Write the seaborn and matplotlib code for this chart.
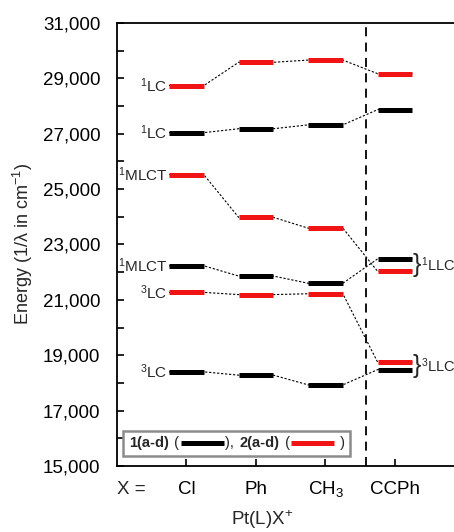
import matplotlib
matplotlib.use("Agg")
import matplotlib.pyplot as plt
import pandas as pd
import seaborn as sns
from matplotlib.lines import Line2D
from matplotlib.offsetbox import AnchoredOffsetbox, DrawingArea, HPacker, TextArea
from matplotlib.ticker import FuncFormatter, MultipleLocator

# X substituents and their positions on the axis.
X_LABELS = ["Cl", "Ph", "CH$_3$", "CCPh"]
X_POS = [1, 2, 3, 4]
Y_TICKS = list(range(15000, 31001, 2000))

# Energies (cm-1); "1" = 1(a-d) black, "2" = 2(a-d) red.
RED_1LC = [28740, 29580, 29660, 29170]
BLACK_1LC = [27040, 27180, 27320, 27870]
RED_1MLCT = [25520, 23980, 23590, 22030]
BLACK_1MLCT = [22230, 21860, 21600, 22480]
RED_3LC = [21270, 21190, 21220, 18750]
BLACK_3LC = [18400, 18280, 17930, 18480]

LEVELS = [
    ("2", "$^{1}$LC", RED_1LC),
    ("1", "$^{1}$LC", BLACK_1LC),
    ("2", "$^{1}$MLCT", RED_1MLCT),
    ("1", "$^{1}$MLCT", BLACK_1MLCT),
    ("2", "$^{3}$LC", RED_3LC),
    ("1", "$^{3}$LC", BLACK_3LC),
]
LLC_LABELS = ["$^{1}$LLC", "$^{3}$LLC"]

HALF = 0.25
COLORS = {"1": "#000000", "2": "#f01414"}


def main() -> None:
    sns.set_style("ticks")
    plt.rcParams["font.family"] = ["Liberation Sans", "DejaVu Sans"]
    plt.rcParams["mathtext.fontset"] = "custom"
    plt.rcParams["mathtext.rm"] = "Liberation Sans"
    plt.rcParams["mathtext.it"] = "Liberation Sans"
    plt.rcParams["mathtext.default"] = "regular"

    # Long tables: one for bars, one for the dashed connector paths.
    bars, paths = [], []
    for i, (comp, name, vals) in enumerate(LEVELS):
        for x, e in zip(X_POS, vals):
            for xp in (x - HALF, x + HALF):
                bars.append({"bar": f"{i}-{x}", "comp": comp, "xp": xp, "energy": e})
                paths.append({"level": i, "xp": xp, "energy": e})
    bars = pd.DataFrame(bars)
    paths = pd.DataFrame(paths)

    fig = plt.figure(figsize=(4.54, 5.32), dpi=100)
    ax = fig.add_axes([0.2577, 0.1241, 0.7654, 0.8327])

    sns.lineplot(data=paths, x="xp", y="energy", units="level", estimator=None,
                 sort=False, color="black", lw=0.8, dashes=False,
                 linestyle=(0, (2, 1.6)), ax=ax)
    sns.lineplot(data=bars, x="xp", y="energy", units="bar", hue="comp",
                 palette=COLORS, estimator=None, sort=False, lw=3.6,
                 solid_capstyle="butt", legend=False, ax=ax)

    # Separator before the CCPh column.
    ax.axvline(3.58, color="black", lw=1.3, linestyle=(0, (5, 3.5)))

    # State labels left of the Cl column.
    for comp, name, vals in LEVELS:
        ax.text(X_POS[0] - HALF - 0.02, vals[0], name, ha="right", va="center",
                fontsize=11)

    # Braces and labels for the CCPh pairs.
    pairs = [(RED_1MLCT[3], BLACK_1MLCT[3]), (RED_3LC[3], BLACK_3LC[3])]
    for label, (a, b) in zip(LLC_LABELS, pairs):
        mid = (a + b) / 2
        ax.text(X_POS[3] + HALF, mid, "}", ha="left", va="center",
                fontsize=18, fontweight="light")
        ax.text(X_POS[3] + HALF + 0.12, mid, label, ha="left", va="center",
                fontsize=10.5)

    ax.set_xlim(0, 5)
    ax.set_ylim(15000, 31000)
    ax.set_xticks(X_POS)
    ax.set_xticklabels(X_LABELS)
    ax.set_yticks(Y_TICKS)
    ax.yaxis.set_minor_locator(MultipleLocator(1000))
    ax.yaxis.set_major_formatter(FuncFormatter(lambda v, p: f"{v:,.0f}"))
    ax.tick_params(axis="both", which="both", direction="in", length=5,
                   width=1.2, labelsize=13.5, colors="black")
    ax.tick_params(axis="y", pad=12)
    # Baseline-align the x labels so the subscripted CH3 sits level with the rest.
    ax.tick_params(axis="x", pad=20)
    for lbl in ax.get_xticklabels():
        lbl.set_verticalalignment("baseline")
    ax.text(0.0, -0.0632, "X =", transform=ax.transAxes, ha="left",
            va="baseline", fontsize=13.5)

    for side in ("left", "bottom", "top"):
        ax.spines[side].set_linewidth(1.3)
        ax.spines[side].set_color("black")
    ax.spines["right"].set_visible(False)

    ax.set_xlabel("Pt(L)X$^{+}$", fontsize=13.5)
    ax.xaxis.set_label_coords(0.417, -0.095)
    ax.set_ylabel("Energy (1/λ in cm$^{-1}$)", fontsize=13)
    ax.yaxis.set_label_coords(-0.235, 0.5)

    # Legend box with inline line samples.
    def sample(color):
        da = DrawingArea(31, 8, 0, 0)
        da.add_artist(Line2D([0, 31], [4, 4], color=color, lw=3.6,
                             solid_capstyle="butt"))
        return da

    tp = dict(fontsize=10.5)
    bp = dict(fontsize=10.5, fontweight="bold")
    row = HPacker(children=[
        TextArea("1(a-d)", textprops=bp), TextArea(" (", textprops=tp),
        sample(COLORS["1"]), TextArea("), ", textprops=tp),
        TextArea("2(a-d)", textprops=bp), TextArea(" (", textprops=tp),
        sample(COLORS["2"]), TextArea(" )", textprops=tp),
    ], align="center", pad=0, sep=1)
    box = AnchoredOffsetbox(loc="lower left", child=row, pad=0.4, borderpad=0,
                            frameon=True, bbox_to_anchor=(0.272, 0.143),
                            bbox_transform=fig.transFigure)
    box.patch.set_edgecolor("#8c8c8c")
    box.patch.set_linewidth(1.8)
    box.patch.set_boxstyle("square", pad=0)
    ax.add_artist(box)

    fig.savefig("out.png", dpi=100)


if __name__ == "__main__":
    main()
